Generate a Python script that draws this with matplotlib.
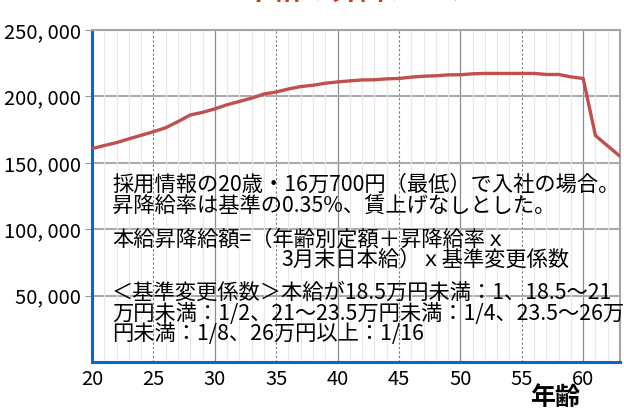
import matplotlib
matplotlib.use('Agg')
import matplotlib.pyplot as plt
from matplotlib.ticker import FuncFormatter, MultipleLocator

plt.rcParams['font.family'] = ['Noto Sans CJK JP', 'DejaVu Sans']

# 年齢と本給（円）
ages = list(range(20, 64))
salary = [160700, 163000, 165200, 168000, 170700, 173400, 176400, 181000, 186000, 188000,
          190600, 193700, 196200, 198700, 201800, 203300, 205600, 207400, 208400, 209900,
          210900, 211700, 212400, 212500, 213200, 213500, 214500, 215200, 215500, 216200,
          216300, 217000, 217300, 217300, 217300, 217300, 217300, 216500, 216500, 214700,
          213500, 170500, 162700, 154900]

y_ticks = [0, 50000, 100000, 150000, 200000, 250000]
x_ticks = [20, 25, 30, 35, 40, 45, 50, 55, 60]

title = '本給の昇降カーブ'
unit_label = '本給（円）'
x_label = '年齢'
notes = [
    '採用情報の20歳・16万700円（最低）で入社の場合。',
    '昇降給率は基準の0.35%、賃上げなしとした。',
    '',
    '本給昇降給額=（年齢別定額＋昇降給率ｘ',
    '3月末日本給）ｘ基準変更係数',
    '',
    '＜基準変更係数＞本給が18.5万円未満：1、18.5～21',
    '万円未満：1/2、21～23.5万円未満：1/4、23.5～26万',
    '円未満：1/8、26万円以上：1/16',
]

W, H = 624, 409
fig = plt.figure(figsize=(W / 100, H / 100), dpi=100)
ax = fig.add_axes([92 / W, 1 - 362 / H, (620 - 92) / W, (362 - 30) / H])

ax.set_xlim(20, 63)
ax.set_ylim(0, 250000)

# grid
ax.xaxis.set_minor_locator(MultipleLocator(1))
ax.grid(which='minor', axis='x', color='#e6e6e6', lw=0.8)
for x in x_ticks[1:]:
    if x % 10 == 0:
        ax.axvline(x, color='#8c8c8c', lw=0.9, zorder=1)
    else:
        ax.axvline(x, color='#7a7a7a', lw=0.8, ls=(0, (2, 2)), zorder=1)
for y in y_ticks[1:]:
    ax.axhline(y, color='#ababab', lw=1.5, zorder=1)

ax.plot(ages, salary, color='#c0504d', lw=2.4, zorder=3, solid_capstyle='round')

ax.set_yticks(y_ticks[1:])
ax.yaxis.set_major_formatter(FuncFormatter(lambda v, p: f'{int(v):,}'.replace(',', ', ')))
ax.set_xticks(x_ticks)
ax.tick_params(axis='y', length=5, color='#9a9a9a', pad=3, labelsize=14.5)
ax.tick_params(axis='x', length=0, pad=5, labelsize=14.5)
ax.tick_params(which='minor', length=0)

for s in ['left', 'bottom']:
    ax.spines[s].set_color('#0b66d0')
    ax.spines[s].set_linewidth(2.2)
for s in ['top', 'right']:
    ax.spines[s].set_color('#a6a6a6')
    ax.spines[s].set_linewidth(1.5)

# notes in the plot area
ypos = 185
for line in notes:
    if not line:
        ypos += 13.5
        continue
    x0 = 281 if line.startswith('3月') else 112
    ax.text(x0 / W, 1 - ypos / H, line, transform=fig.transFigure,
            fontsize=15.3, va='center', ha='left', color='black', zorder=4)
    ypos += 20.3

fig.text(555 / W, 1 - 398 / H, x_label, fontsize=18, fontweight='bold', ha='center', va='center')
fig.text(360 / W, 1 + 10 / H, title, fontsize=21, fontweight='bold', color='#d0381a',
         ha='center', va='center')
fig.text(70 / W, 1 + 8 / H, unit_label, fontsize=15, ha='center', va='center')

fig.savefig('out.png', dpi=100)
